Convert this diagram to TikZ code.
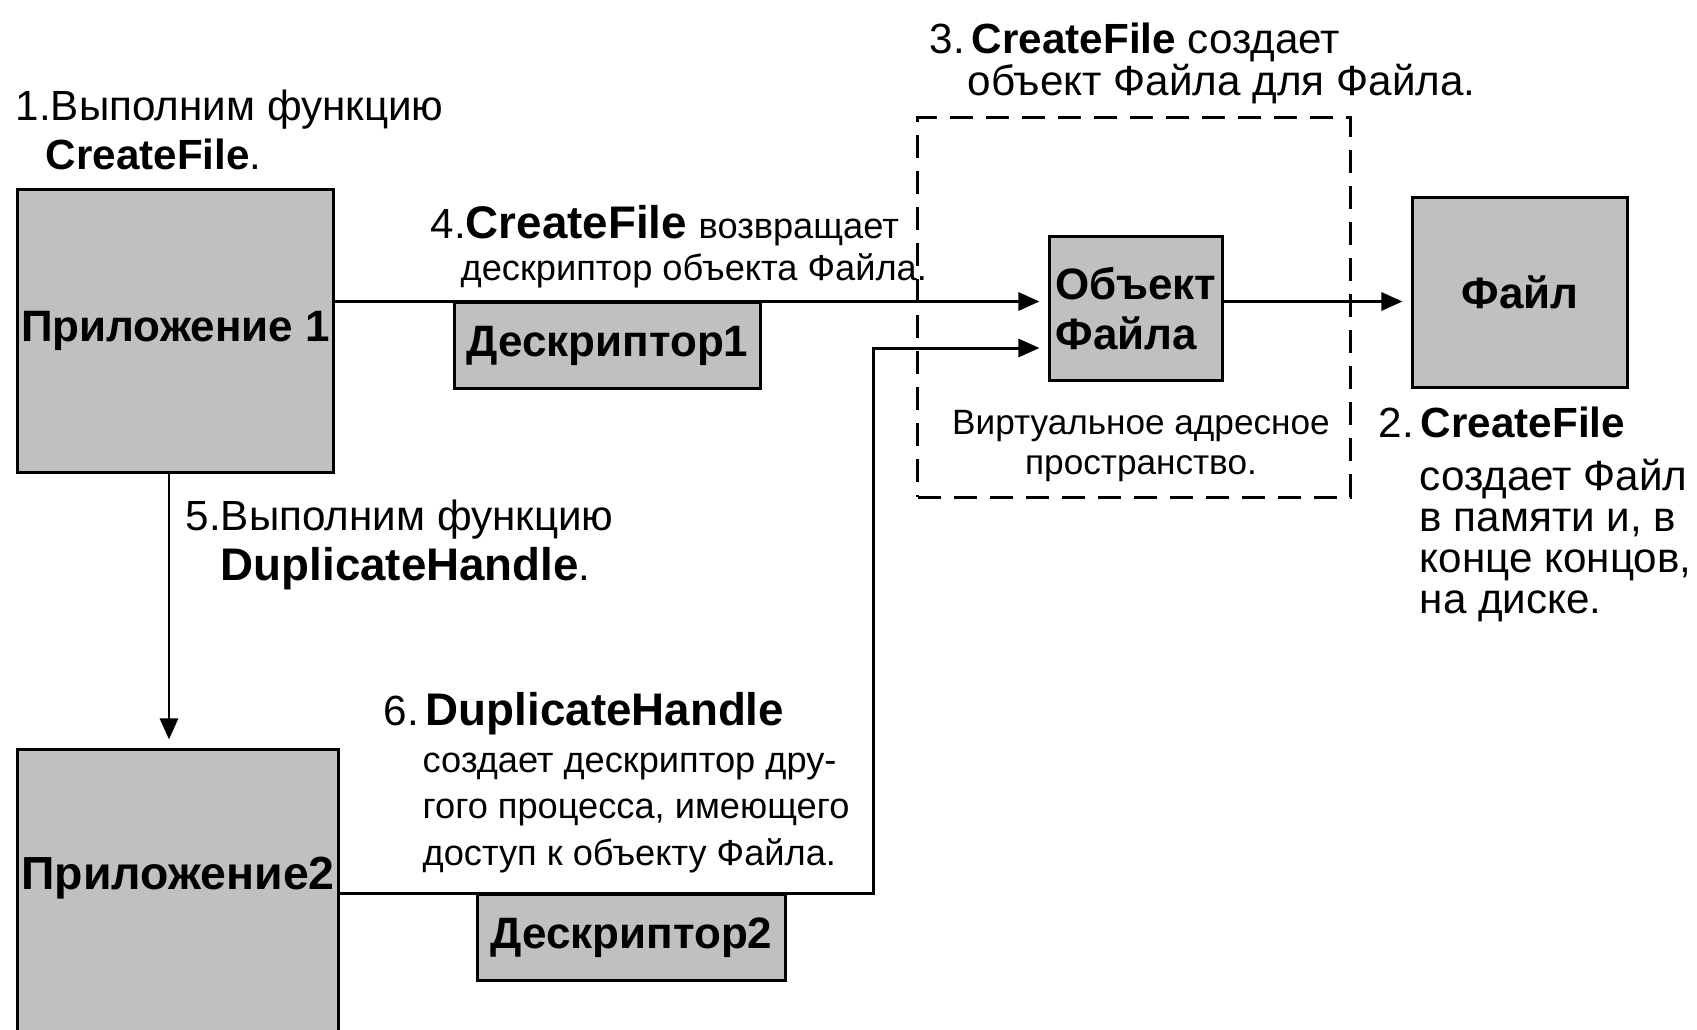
\documentclass[tikz,border=0pt]{standalone}
\usepackage{fontspec}
\setmainfont{Liberation Sans}
\usepackage{tikz}
\usetikzlibrary{arrows.meta}
\usetikzlibrary{calc, positioning}

\definecolor{boxgray}{RGB}{192,192,192}

\tikzset{
  grbox/.style={draw=black, fill=boxgray, line width=0.85pt, inner sep=0pt,
    font=\bfseries\fontsize{12.5}{14}\selectfont},
  conn/.style={line width=0.85pt, -{Triangle[length=0.21cm,width=0.18cm]}, shorten >=0.09cm},
  txt/.style={inner sep=0pt, anchor=base west, align=left, font=\fontsize{12}{14}\selectfont},
  small/.style={inner sep=0pt, align=center, font=\fontsize{10}{11.4}\selectfont},
  region/.style={draw=black, dash pattern=on 0.23cm off 0.13cm, line width=0.85pt,
    minimum width=4.32cm, minimum height=3.79cm}
}
\newcommand{\bigb}[1]{\textbf{\fontsize{13}{14}\selectfont #1}}
\newcommand{\sm}[1]{{\fontsize{10.3}{13}\selectfont #1}}

\begin{document}
\begin{tikzpicture}[x=0.01cm, y=-0.01cm]
          \useasboundingbox (0,0) rectangle (1697,1029);

          \node [region] (vas) at (1134,307.5) {}; % virtual address space

          \node [grbox, minimum width=3.15cm, minimum height=2.82cm] (app1) at (175.5,331) {Приложение 1}; % Draws a box
          \node [grbox, minimum width=3.2cm, minimum height=2.9cm] (app2) at (178,895) {}; % Draws a box
          \node [font=\bfseries\fontsize{13.2}{14}\selectfont, inner sep=0pt] (app2lbl) at (178,878) {Приложение2};

          \node [grbox, minimum width=3.05cm, minimum height=0.85cm] (desc1) at (607.5,345.5) {Дескриптор1};
          \node [grbox, minimum width=3.07cm, minimum height=0.85cm] (desc2) at (631.5,937.5) {Дескриптор2};

          \node [grbox, align=left, minimum width=1.72cm, minimum height=1.43cm] (obj) at (1136,308.5) {Объект\\Файла};
          \node [grbox, minimum width=2.14cm, minimum height=1.89cm] (file) at (1520,292.5) {Файл};

          % step labels (anchored on the last line)
          \node [txt, font=\fontsize{12}{13.9}\selectfont] (s1) at (15,169) {1.Выполним функцию\\\hspace*{0.3cm}\textbf{CreateFile}.};
          \node [txt, font=\fontsize{12}{11.65}\selectfont] (s2) at (1378,613) {2.\,\textbf{CreateFile}\\[3.4pt]
            \hspace*{0.41cm}создает Файл\\
            \hspace*{0.41cm}в памяти и, в\\
            \hspace*{0.41cm}конце концов,\\
            \hspace*{0.41cm}на диске.};
          \node [txt] (s3) at (929,95) {3.\,\textbf{CreateFile} создает\\[-2.3pt]\hspace*{0.38cm}объект Файла для Файла.};
          \node [txt] (s4) at (430,280) {4.\bigb{CreateFile} \sm{возвращает}\\[-2.1pt]
            \hspace*{0.3cm}\sm{дескриптор объекта Файла.}};
          \node [txt, font=\fontsize{12}{14.2}\selectfont] (s5) at (185,580) {5.Выполним функцию\\\hspace*{0.35cm}\bigb{DuplicateHandle}.};
          \node [txt, font=\fontsize{12}{13.2}\selectfont] (s6) at (383,865) {6.\,\bigb{DuplicateHandle}\\
            \hspace*{0.39cm}\sm{создает дескриптор дру-}\\
            \hspace*{0.39cm}\sm{гого процесса, имеющего}\\
            \hspace*{0.39cm}\sm{доступ к объекту Файла.}};
          \node [small] (vaslbl) at (1141,446) {Виртуальное адресное\\пространство.};

          % connectors
          \coordinate (rise) at (873,348);
          \draw [conn] (app1.east |- desc1.north) -- (obj.west |- desc1.north);
          \draw [conn] (obj.east |- desc1.north) -- (file.west |- desc1.north);
          \draw [conn] ([xshift=-0.065cm]app1.south) -- ([xshift=-0.065cm]app1.south |- app2.north);
          \draw [conn] (app2.east |- desc2.north) -| (rise) -- (obj.west |- rise);
\end{tikzpicture}
\end{document}
